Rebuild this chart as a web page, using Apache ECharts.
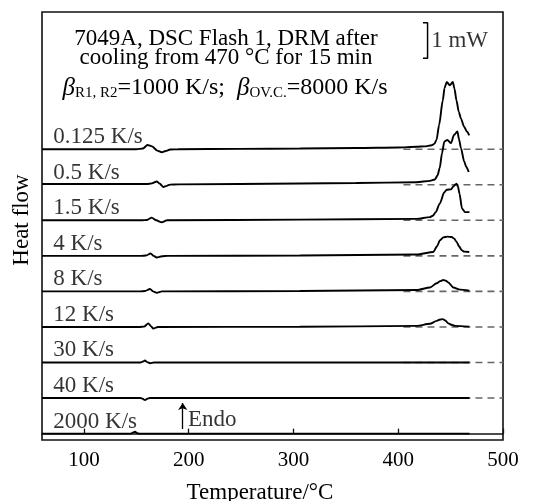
<!DOCTYPE html>
<html><head><meta charset="utf-8">
<script src="https://cdn.jsdelivr.net/npm/echarts@6/dist/echarts.min.js"></script>
<style>html,body{margin:0;padding:0;background:#fff}#c{width:544px;height:501px}</style>
</head><body><div id="c"></div>
<script>
// ---------- data ----------
const rateLabels = ['0.125 K/s', '0.5 K/s', '1.5 K/s', '4 K/s', '8 K/s', '12 K/s', '30 K/s', '40 K/s', '2000 K/s'];
const xTickValues = [100, 200, 300, 400, 500];
const xAxisName = 'Temperature/°C';
const yAxisName = 'Heat flow';
const titleLines = ['7049A, DSC Flash 1, DRM after', 'cooling from 470 °C for 15 min'];

// heat flow (mW, relative to own baseline) vs temperature (°C)
const T_0125 = [60,150,156.4,160.7,165,170,174.3,178,182.2,190,250,306,360,400,417.6,425,432,434.5,436.6,439,442.5,444.2,446.3,449.2,452.1,453.7,455.6,457.8,459.9,462.9,465.5,467.8];
const H_0125 = [0,0,0.02,0.12,0.08,-0.04,-0.085,-0.05,-0.01,0,0.01,0.02,0.035,0.05,0.07,0.08,0.11,0.15,0.27,0.68,1.37,1.72,1.89,1.80,1.89,1.70,1.37,1.05,0.86,0.63,0.50,0.39];
const T_05 = [60,160,165,169.5,172.5,175.8,179,182.2,190,306,360,417.6,430.3,435,437.5,439.6,441.8,444,446.9,450.4,453.2,456.5,458,459.9,462.9,465,467.3];
const H_05 = [0.02,0.02,0.04,0.09,0.03,-0.065,-0.03,0.005,0.01,0.035,0.05,0.07,0.11,0.15,0.26,0.47,0.89,1.22,1.26,1.17,1.40,1.50,1.28,1.03,0.66,0.50,0.36];
const T_15 = [60,155,160.2,164.7,169,174.2,179.3,306,417.6,430.3,433,435.8,439.6,444,446.3,450.4,452.8,455.6,457,458.5,460.9,463.7,468];
const H_15 = [0,0,0.01,0.076,0,-0.056,0,0.02,0.04,0.09,0.13,0.23,0.47,0.79,0.86,0.87,0.96,1.03,0.95,0.75,0.33,0.23,0.23];
const T_4 = [60,154,159.3,163.7,166.5,169.5,174.5,180,306,417.6,433.5,437,439.9,443,447,451,453.5,455.8,458,460.6,463,467.8];
const H_4 = [0,0,0.01,0.068,0,-0.045,-0.01,0,0.01,0.04,0.11,0.27,0.44,0.52,0.54,0.53,0.48,0.39,0.27,0.16,0.12,0.11];
const T_8 = [60,153,158.3,163.1,166,169.5,174.5,306,417.6,430.3,436.7,440,443,445.5,447.8,452.6,459,467.8];
const H_8 = [0,0,0.01,0.068,0,-0.037,0,0.01,0.04,0.11,0.23,0.29,0.32,0.30,0.25,0.11,0.05,0.02];
const T_12 = [60,153,157.4,161.5,164,166.2,170.7,306,417.6,430.3,436.7,440,442.5,445,447.8,451,454.2,467.8];
const H_12 = [0,0,0.01,0.10,0.02,-0.045,0,0.005,0.03,0.09,0.17,0.21,0.22,0.18,0.10,0.06,0.03,0.01];
const T_30 = [60,154,156.5,158.3,160.5,163,167,468];
const H_30 = [0,0,0.03,0.056,0.01,-0.02,0,0];
const T_40 = [60,154,156,158.3,160.5,163,468];
const H_40 = [0,0,-0.02,-0.056,-0.02,0,0];
const T_2000 = [60,145,147,148.8,151,153,468];
const H_2000 = [0,0,0.03,0.05,0.01,0,0];

const curveT = [T_0125, T_05, T_15, T_4, T_8, T_12, T_30, T_40, T_2000];
const curveH = [H_0125, H_05, H_15, H_4, H_8, H_12, H_30, H_40, H_2000];
const hasDashedBaseline = [true, true, true, true, true, true, true, true, false];
const scaleBarMW = 1;           // scale bar length
const scaleBarLabel = '1 mW';
const endoLabel = 'Endo';

// ---------- layout helpers (not data) ----------
const SPACING = 1;              // mW between stacked baselines
const N = rateLabels.length;
const offsetOf = i => (N - 1 - i) * SPACING;
const FONT = "'Liberation Serif','Times New Roman',serif";

const series = [];
// dashed baselines
curveT.forEach((t, i) => {
  if (!hasDashedBaseline[i]) return;
  series.push({
    type: 'line', silent: true, symbol: 'none', z: 2,
    data: [[405, offsetOf(i)], [500, offsetOf(i)]],
    lineStyle: { color: '#666', width: 1.6, type: [7, 5] }
  });
});
// curves
curveT.forEach((t, i) => {
  series.push({
    type: 'line', silent: true, symbol: 'none', z: 3,
    smooth: 0.25, smoothMonotone: 'x',
    data: t.map((x, k) => [x, curveH[i][k] + offsetOf(i)]),
    lineStyle: { color: '#000', width: 1.9 }
  });
});
// rate labels
series.push({
  type: 'scatter', symbolSize: 0, silent: true, z: 4,
  data: rateLabels.map((s, i) => ({ value: [70.8, offsetOf(i) + 0.34], name: s })),
  label: { show: true, position: 'right', distance: 0, formatter: p => p.name,
           fontFamily: FONT, fontSize: 23, color: '#000' }
});
// scale bar
const sbTop = 11.56, sbBot = sbTop - scaleBarMW;
series.push({
  type: 'line', silent: true, symbol: 'none', z: 4,
  data: [[423.6, sbBot], [428, sbBot], [428, sbTop], [423.6, sbTop]],
  lineStyle: { color: '#000', width: 1.5 }
});
series.push({
  type: 'scatter', symbolSize: 0, silent: true, z: 4,
  data: [{ value: [431.5, (sbTop + sbBot) / 2 - 0.02], name: scaleBarLabel },
         { value: [199.4, 0.38], name: endoLabel }],
  label: { show: true, position: 'right', distance: 0, formatter: p => p.name,
           fontFamily: FONT, fontSize: 23, color: '#000' },
  markLine: {
    silent: true, symbol: ['none', 'arrow'], symbolSize: 7,
    label: { show: false },
    lineStyle: { color: '#000', width: 1.3, type: 'solid' },
    data: [[{ coord: [194.3, 0.13] }, { coord: [194.3, 0.86] }]]
  }
});

const chart = echarts.init(document.getElementById('c'), null, { renderer: 'canvas' });
chart.setOption({
  animation: false,
  backgroundColor: '#fff',
  grid: { left: 42, right: 41, top: 12, bottom: 61, show: true, borderColor: '#111', borderWidth: 1.6,
          containLabel: false, outerBoundsMode: 'none' },
  xAxis: {
    type: 'value', min: 60, max: 500,
    name: xAxisName, nameLocation: 'middle', nameGap: 41,
    nameTextStyle: { fontFamily: FONT, fontSize: 23, color: '#000', padding: [0, 25, 0, 0] },
    axisLine: { show: true, lineStyle: { color: '#111', width: 1.6 } },
    axisTick: { show: true, inside: true, length: 5, customValues: xTickValues, lineStyle: { color: '#111', width: 1.3 } },
    axisLabel: { customValues: xTickValues, fontFamily: FONT, fontSize: 21, color: '#000', margin: 10 },
    splitLine: { show: false }
  },
  yAxis: {
    type: 'value', min: -0.18, max: 11.86,
    name: yAxisName, nameLocation: 'middle', nameGap: 9,
    nameTextStyle: { fontFamily: FONT, fontSize: 23, color: '#000', padding: [0, 0, 0, 12] },
    axisLine: { show: false }, axisTick: { show: false }, axisLabel: { show: false },
    splitLine: { show: false }
  },
  graphic: [
    { type: 'text', x: 226, y: 39, style: { text: titleLines[0], font: '23px ' + FONT, fill: '#000', align: 'center', verticalAlign: 'middle' } },
    { type: 'text', x: 226, y: 58, style: { text: titleLines[1], font: '23px ' + FONT, fill: '#000', align: 'center', verticalAlign: 'middle' } },
    { type: 'text', x: 225, y: 88, style: {
        text: '{b|β}{s|R1, R2}{n|=1000 K/s;  }{b|β}{s|OV.C.}{n|=8000 K/s}',
        align: 'center', verticalAlign: 'middle', fill: '#000',
        rich: {
          b: { fontFamily: FONT, fontSize: 25, fontStyle: 'italic', lineHeight: 25, fill: '#000' },
          s: { fontFamily: FONT, fontSize: 15, lineHeight: 25, verticalAlign: 'bottom', fill: '#000' },
          n: { fontFamily: FONT, fontSize: 24, lineHeight: 25, fill: '#000' }
        } } }
  ],
  series: series
});
</script></body></html>
